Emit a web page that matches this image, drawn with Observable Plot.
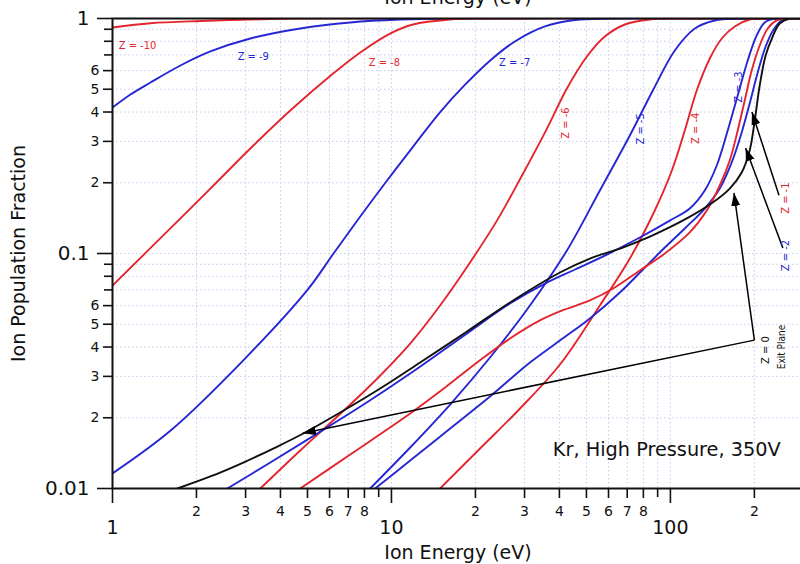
<!DOCTYPE html>
<html>
<head>
<meta charset="utf-8">
<script src="https://cdn.jsdelivr.net/npm/d3@7"></script>
<script src="https://cdn.jsdelivr.net/npm/@observablehq/plot@0.6"></script>
<style>
  body { margin: 0; background: white; }
  #chart svg { display: block; }
</style>
</head>
<body>
<div id="chart"></div>
<script>
// ---------- data ----------
const RED = "#e3262d";
const BLUE = "#2626d2";
const BLACK = "#111111";

const energyZm10 = [1, 1.368, 2.07, 3.12, 4.71, 300];
const fracZm10   = [0.916, 0.955, 0.976, 0.99, 1, 1];

const energyZm9 = [1, 1.16, 1.368, 1.752, 2.243, 3.12, 4.71, 7.115, 10.74, 16.23, 300];
const fracZm9   = [0.418, 0.475, 0.534, 0.631, 0.724, 0.822, 0.907, 0.962, 0.99, 1, 1];

const energyZm8 = [1, 1.752, 2.377, 3.198, 4.338, 6.18, 7.73, 9.89, 11.96, 16.2, 20.8, 300];
const fracZm8   = [0.0731, 0.141, 0.2025, 0.288, 0.406, 0.583, 0.717, 0.863, 0.943, 0.99, 1, 1];

const energyZm7 = [1, 1.62, 2.95, 5.0, 6.2, 7.73, 9.66, 11.96, 14.9, 18.4, 22.6, 27.7, 35.5, 45.5, 60.5, 300];
const fracZm7   = [0.0116, 0.0177, 0.0352, 0.07, 0.1, 0.1437, 0.205, 0.285, 0.398, 0.524, 0.663, 0.798, 0.925, 0.985, 1, 1];

const energyZm6 = [3.388, 4.71, 6.285, 8.39, 11.67, 14.94, 19.13, 23.89, 29.38, 36.1, 42.56, 50.2, 58.2, 68.7, 84.4, 108, 300];
const fracZm6   = [0.01, 0.01451, 0.01986, 0.02743, 0.0414, 0.0601, 0.0916, 0.138, 0.2147, 0.34, 0.5037, 0.689, 0.838, 0.943, 0.99, 1, 1];

const energyZm5 = [8.39, 11.67, 16.23, 22.56, 31.37, 42.56, 55.86, 71.55, 86.5, 103.7, 122.3, 144.2, 177, 300];
const fracZm5   = [0.01, 0.01494, 0.02277, 0.03609, 0.0601, 0.103, 0.1854, 0.3178, 0.494, 0.731, 0.907, 0.981, 1, 1];

const energyZm4 = [14.94, 20.78, 28.9, 40.18, 55.86, 71.55, 87.9, 101.2, 112.6, 124.3, 138.4, 152.8, 170.1, 192.4, 227, 300];
const fracZm4   = [0.01, 0.0148, 0.0219, 0.0337, 0.0601, 0.0952, 0.1524, 0.2255, 0.3338, 0.494, 0.676, 0.822, 0.925, 0.99, 1, 1];

const energyZm3 = [2.58, 3.679, 5.42, 8.05, 11.67, 18.66, 26.6, 35.5, 45.5, 59.2, 77.7, 99.5, 117.3, 132.8, 146.6, 160.5, 174.3, 189.3, 203.9, 217.8, 236.5, 300];
const fracZm3   = [0.01, 0.0129, 0.01714, 0.023, 0.03086, 0.0457, 0.0613, 0.0745, 0.0855, 0.099, 0.117, 0.138, 0.1554, 0.1854, 0.2368, 0.3338, 0.4703, 0.663, 0.847, 0.962, 1, 1];

const energyZm2 = [8.74, 11.67, 16.23, 22.56, 31.37, 40.18, 51.45, 65.9, 81.0, 95.5, 112.6, 132.8, 150.3, 165.9, 180.1, 192.4, 205.6, 219.5, 234.5, 250.5, 272, 300];
const fracZm2   = [0.01, 0.01315, 0.018, 0.02463, 0.03437, 0.04264, 0.0529, 0.0682, 0.0872, 0.106, 0.1278, 0.1554, 0.189, 0.244, 0.327, 0.435, 0.589, 0.76, 0.898, 0.981, 1, 1];

const energyZm1 = [4.71, 7.115, 11.67, 15.57, 20.27, 26.6, 34.07, 41.88, 51.45, 63.2, 77.7, 95.5, 117.3, 135, 150.3, 163.2, 174.3, 184.7, 195.6, 209, 223.3, 240.4, 263.3, 300];
const fracZm1   = [0.01, 0.01395, 0.02085, 0.0269, 0.03437, 0.04348, 0.0519, 0.0578, 0.0631, 0.0717, 0.0847, 0.1, 0.1229, 0.1524, 0.1947, 0.2487, 0.3338, 0.4477, 0.601, 0.7675, 0.907, 0.981, 1, 1];

const energyZ0 = [1.709, 2.243, 2.944, 3.834, 4.83, 6.55, 9.11, 12.67, 18.66, 26.6, 40.18, 51.45, 67.5, 84.4, 114.5, 141.8, 163.2, 180.1, 192.4, 200.6, 209, 219.5, 232.6, 246.4, 267.6, 300];
const fracZ0   = [0.01, 0.01125, 0.0129, 0.01494, 0.01714, 0.02105, 0.02664, 0.03437, 0.04657, 0.0619, 0.083, 0.0952, 0.106, 0.118, 0.141, 0.1648, 0.189, 0.2212, 0.2745, 0.368, 0.519, 0.696, 0.838, 0.952, 1, 1];

const seriesNames  = ["-10", "-9", "-8", "-7", "-6", "-5", "-4", "-3", "-2", "-1", "0"];
const seriesColors = [RED, BLUE, RED, BLUE, RED, BLUE, RED, BLUE, BLUE, RED, BLACK];
const seriesEnergy = [energyZm10, energyZm9, energyZm8, energyZm7, energyZm6, energyZm5, energyZm4, energyZm3, energyZm2, energyZm1, energyZ0];
const seriesFrac   = [fracZm10, fracZm9, fracZm8, fracZm7, fracZm6, fracZm5, fracZm4, fracZm3, fracZm2, fracZm1, fracZ0];

// curve labels
const hLabelText  = ["Z = -10", "Z = -9", "Z = -8", "Z = -7"];
const hLabelX     = [1.053, 2.81, 8.29, 24.3];
const hLabelY     = [0.77, 0.686, 0.653, 0.647];
const hLabelColor = [RED, BLUE, RED, BLUE];

const vLabelText  = ["Z = -6", "Z = -5", "Z = -4", "Z = -3", "Z = -1", "Z = -2", "Z = 0"];
const vLabelX     = [42.1, 78.3, 123, 176, 259, 259, 219];
const vLabelY     = [0.359, 0.339, 0.341, 0.511, 0.172, 0.098, 0.0388];
const vLabelColor = [RED, BLUE, RED, BLUE, RED, BLUE, BLACK];

const exitText = ["Exit Plane"];
const exitX = [251];
const exitY = [0.04];

// annotation arrows (from label to curve)
const arrowX1 = [200, 200, 253, 245];
const arrowY1 = [0.0428, 0.0428, 0.1055, 0.177];
const arrowX2 = [4.81, 169, 186, 196];
const arrowY2 = [0.0172, 0.181, 0.281, 0.40];

const noteText = ["Kr, High Pressure, 350V"];
const noteX = [37.9];
const noteY = [0.0146];

// ticks
const xMajor = [1, 10, 100];
const xMajorLabels = ["1", "10", "100"];
const xMinorLabeled = [2, 3, 4, 5, 6, 7, 8, 20, 30, 40, 50, 60, 70, 80, 200, 300];
const xMinorLabels  = ["2", "3", "4", "5", "6", "7", "8", "2", "3", "4", "5", "6", "7", "8", "2", "3"];
const xMinorPlain = [9, 90];

const yMajor = [0.01, 0.1, 1];
const yMajorLabels = ["0.01", "0.1", "1"];
const yMinorLabeled = [0.02, 0.03, 0.04, 0.05, 0.06, 0.2, 0.3, 0.4, 0.5, 0.6];
const yMinorLabels  = ["2", "3", "4", "5", "6", "2", "3", "4", "5", "6"];
const yMinorPlain = [0.07, 0.08, 0.09, 0.7, 0.8, 0.9];

// ---------- build tables ----------
const rows = [];
seriesNames.forEach((name, s) => {
  seriesEnergy[s].forEach((e, i) => rows.push({series: name, color: seriesColors[s], energy: e, frac: seriesFrac[s][i]}));
});
const hLabels = hLabelText.map((t, i) => ({t, x: hLabelX[i], y: hLabelY[i], c: hLabelColor[i]}));
const vLabels = vLabelText.map((t, i) => ({t, x: vLabelX[i], y: vLabelY[i], c: vLabelColor[i]}));
const arrows = arrowX1.map((x1, i) => ({x1, y1: arrowY1[i], x2: arrowX2[i], y2: arrowY2[i]}));
const notes = noteText.map((t, i) => ({t, x: noteX[i], y: noteY[i]}));
const exits = exitText.map((t, i) => ({t, x: exitX[i], y: exitY[i]}));
const xMinorRows = xMinorLabeled.map((v, i) => ({v, t: xMinorLabels[i]}));
const xMajorRows = xMajor.map((v, i) => ({v, t: xMajorLabels[i]}));
const yMinorRows = yMinorLabeled.map((v, i) => ({v, t: yMinorLabels[i]}));
const yMajorRows = yMajor.map((v, i) => ({v, t: yMajorLabels[i]}));

const NS = "http://www.w3.org/2000/svg";
function filledHead(color, context) {
  const doc = (context && context.document) || document;
  const m = doc.createElementNS(NS, "marker");
  m.setAttribute("viewBox", "-13 -5 13 10");
  m.setAttribute("markerWidth", 13);
  m.setAttribute("markerHeight", 10);
  m.setAttribute("markerUnits", "userSpaceOnUse");
  m.setAttribute("orient", "auto");
  m.setAttribute("refX", 0);
  m.setAttribute("refY", 0);
  const p = doc.createElementNS(NS, "path");
  p.setAttribute("d", "M-13,-4.5L0,0L-13,4.5Z");
  p.setAttribute("fill", color);
  p.setAttribute("stroke", "none");
  m.appendChild(p);
  return m;
}

const FONT = "DejaVu Sans, Lato, sans-serif";
const LABEL_FONT = "DejaVu Sans Condensed, Liberation Sans Narrow, DejaVu Sans, sans-serif";
const GRID = "#c3cbef";

function build(marker) {
  return Plot.plot({
    width: 800,
    height: 564,
    marginLeft: 112,
    marginRight: -3,
    marginTop: 18,
    marginBottom: 76,
    x: {type: "log", domain: [1, 300], label: null},
    y: {type: "log", domain: [0.01, 1], label: null},
    color: {type: "identity"},
    style: {fontFamily: FONT, background: "white", overflow: "visible", color: "#111"},
    marks: [
      Plot.gridX([...xMinorLabeled, ...xMinorPlain, 10, 100], {stroke: GRID, strokeOpacity: 1, strokeWidth: 1, strokeDasharray: "1.5,2.5"}),
      Plot.gridY([...yMinorLabeled, ...yMinorPlain, 0.1], {stroke: GRID, strokeOpacity: 1, strokeWidth: 1, strokeDasharray: "1.5,2.5"}),
      Plot.line(rows, {x: "energy", y: "frac", z: "series", stroke: "color", strokeWidth: 1.9, curve: "catmull-rom", clip: true}),
      Plot.frame({stroke: "#111", strokeWidth: 2}),
      // axes: ticks
      Plot.axisX(xMajor, {anchor: "bottom", tickSize: 15, tickFormat: () => "", label: null, strokeWidth: 1.6}),
      Plot.axisX(xMinorLabeled, {anchor: "bottom", tickSize: 10, tickFormat: () => "", label: null, strokeWidth: 1.6}),
      Plot.axisX(xMinorPlain, {anchor: "bottom", tickSize: 9, tickFormat: () => "", label: null, strokeWidth: 1.6}),
      Plot.axisY(yMajor, {anchor: "left", tickSize: 15, tickFormat: () => "", label: null, strokeWidth: 1.6}),
      Plot.axisY(yMinorLabeled, {anchor: "left", tickSize: 9, tickFormat: () => "", label: null, strokeWidth: 1.6}),
      Plot.axisY(yMinorPlain, {anchor: "left", tickSize: 8, tickFormat: () => "", label: null, strokeWidth: 1.6}),
      // axes: tick labels
      Plot.text(xMajorRows, {x: "v", text: "t", frameAnchor: "bottom", lineAnchor: "top", dy: 32, fontSize: 19, fill: "#111"}),
      Plot.text(xMinorRows, {x: "v", text: "t", frameAnchor: "bottom", lineAnchor: "top", dy: 18, fontSize: 14, fill: "#111"}),
      Plot.text(yMajorRows, {y: "v", text: "t", frameAnchor: "left", textAnchor: "end", dx: -23, fontSize: 20, fill: "#111"}),
      Plot.text(yMinorRows, {y: "v", text: "t", frameAnchor: "left", textAnchor: "end", dx: -13, fontSize: 14, fill: "#111"}),
      // titles
      Plot.text(["Ion Energy (eV)"], {frameAnchor: "bottom", dy: 70, lineAnchor: "bottom", fontSize: 19, fill: "#111"}),
      Plot.text(["Ion Energy (eV)"], {frameAnchor: "top", dy: -15, lineAnchor: "bottom", fontSize: 19, fill: "#111"}),
      Plot.text(["Ion Population Fraction"], {frameAnchor: "left", textAnchor: "middle", dx: -94, rotate: -90, fontSize: 19, fill: "#111"}),
      // annotations
      Plot.link(arrows, {x1: "x1", y1: "y1", x2: "x2", y2: "y2", stroke: "#000", strokeWidth: 1.5, markerEnd: marker}),
      Plot.text(hLabels, {x: "x", y: "y", text: "t", fill: "c", textAnchor: "start", fontSize: 11, fontFamily: LABEL_FONT}),
      Plot.text(vLabels, {x: "x", y: "y", text: "t", fill: "c", rotate: -90, fontSize: 11, fontFamily: LABEL_FONT}),
      Plot.text(exits, {x: "x", y: "y", text: "t", fill: "#111", rotate: -90, fontSize: 10, fontFamily: LABEL_FONT}),
      Plot.text(notes, {x: "x", y: "y", text: "t", fill: "#111", textAnchor: "start", fontSize: 19.3})
    ]
  });
}

let chart;
try {
  chart = build(filledHead);
} catch (e) {
  chart = build("arrow");
}
document.getElementById("chart").appendChild(chart);
</script>
</body>
</html>
